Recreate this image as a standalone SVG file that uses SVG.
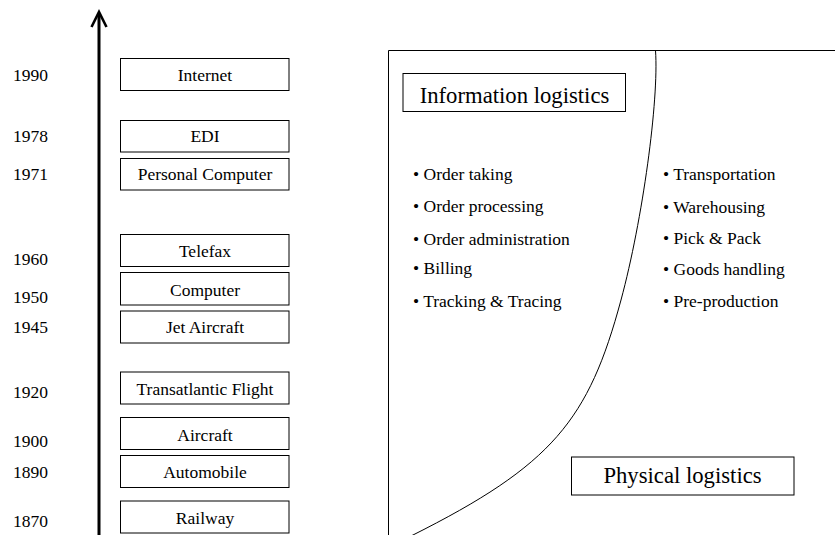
<svg xmlns="http://www.w3.org/2000/svg" width="835" height="535" viewBox="0 0 835 535">
<style>
text{font-family:"Liberation Serif","Times New Roman",serif;fill:#000}
.t{font-size:17.5px}
.c{text-anchor:middle}
.big{font-size:22.7px}
.box{fill:#fff;stroke:#000;stroke-width:1}
.ln{fill:none;stroke:#000;stroke-width:1}
</style>
<rect width="835" height="535" fill="#fff"/>
<g id="connectors">
<line x1="99" y1="535" x2="99" y2="14" stroke="#000" stroke-width="3"/>
<polyline points="91.5,27 99,12 106.5,27" fill="none" stroke="#000" stroke-width="2.6" stroke-linejoin="miter"/>
</g>
<g id="years">
<text class="t" x="13" y="81">1990</text>
<text class="t" x="13" y="141.7">1978</text>
<text class="t" x="13" y="180">1971</text>
<text class="t" x="13" y="265">1960</text>
<text class="t" x="13" y="303">1950</text>
<text class="t" x="13" y="333">1945</text>
<text class="t" x="13" y="398">1920</text>
<text class="t" x="13" y="446.5">1900</text>
<text class="t" x="13" y="478">1890</text>
<text class="t" x="13" y="526.5">1870</text>
</g>
<g id="internet"><rect class="box" x="120.5" y="58.5" width="168.5" height="32"/><text class="t c" x="205" y="81.3">Internet</text></g>
<g id="edi"><rect class="box" x="120.5" y="120.5" width="168.5" height="31.5"/><text class="t c" x="205" y="141.7">EDI</text></g>
<g id="pc"><rect class="box" x="120.5" y="158.5" width="168.5" height="31.5"/><text class="t c" x="205" y="180">Personal Computer</text></g>
<g id="telefax"><rect class="box" x="120.5" y="234.5" width="168.5" height="32"/><text class="t c" x="205" y="256.5">Telefax</text></g>
<g id="computer"><rect class="box" x="120.5" y="272.5" width="168.5" height="32.5"/><text class="t c" x="205" y="295.5">Computer</text></g>
<g id="jet"><rect class="box" x="120.5" y="311" width="168.5" height="32"/><text class="t c" x="205" y="333">Jet Aircraft</text></g>
<g id="transatlantic"><rect class="box" x="120.5" y="372" width="168.5" height="32"/><text class="t c" x="205" y="395">Transatlantic Flight</text></g>
<g id="aircraft"><rect class="box" x="120.5" y="417.5" width="168.5" height="32"/><text class="t c" x="205" y="440.5">Aircraft</text></g>
<g id="automobile"><rect class="box" x="120.5" y="455.5" width="168.5" height="32"/><text class="t c" x="205" y="478">Automobile</text></g>
<g id="railway"><rect class="box" x="120.5" y="501" width="168.5" height="32"/><text class="t c" x="205" y="523.5">Railway</text></g>
<g id="panel">
<path class="ln" d="M388.5,535 L388.5,50.5 L835,50.5"/>
<path class="ln" d="M655.5,50.5 C659,100 642.6,220 621,300 C588.6,420 553,465 411,536"/>
</g>
<g id="info-logistics"><rect class="box" x="403" y="73.5" width="222.5" height="38"/><text class="big c" x="514.5" y="102.7">Information logistics</text></g>
<g id="info-list">
<text class="t" x="413" y="179.5">• Order taking</text>
<text class="t" x="413" y="212">• Order processing</text>
<text class="t" x="413" y="244.5">• Order administration</text>
<text class="t" x="413" y="274">• Billing</text>
<text class="t" x="413" y="306.5">• Tracking &amp; Tracing</text>
</g>
<g id="physical-list">
<text class="t" x="663" y="180">• Transportation</text>
<text class="t" x="663" y="212.5">• Warehousing</text>
<text class="t" x="663" y="244">• Pick &amp; Pack</text>
<text class="t" x="663" y="274.5">• Goods handling</text>
<text class="t" x="663" y="306.5">• Pre-production</text>
</g>
<g id="physical-logistics"><rect class="box" x="571.5" y="457" width="222.5" height="38"/><text class="big c" x="682.5" y="483.3">Physical logistics</text></g>
</svg>
